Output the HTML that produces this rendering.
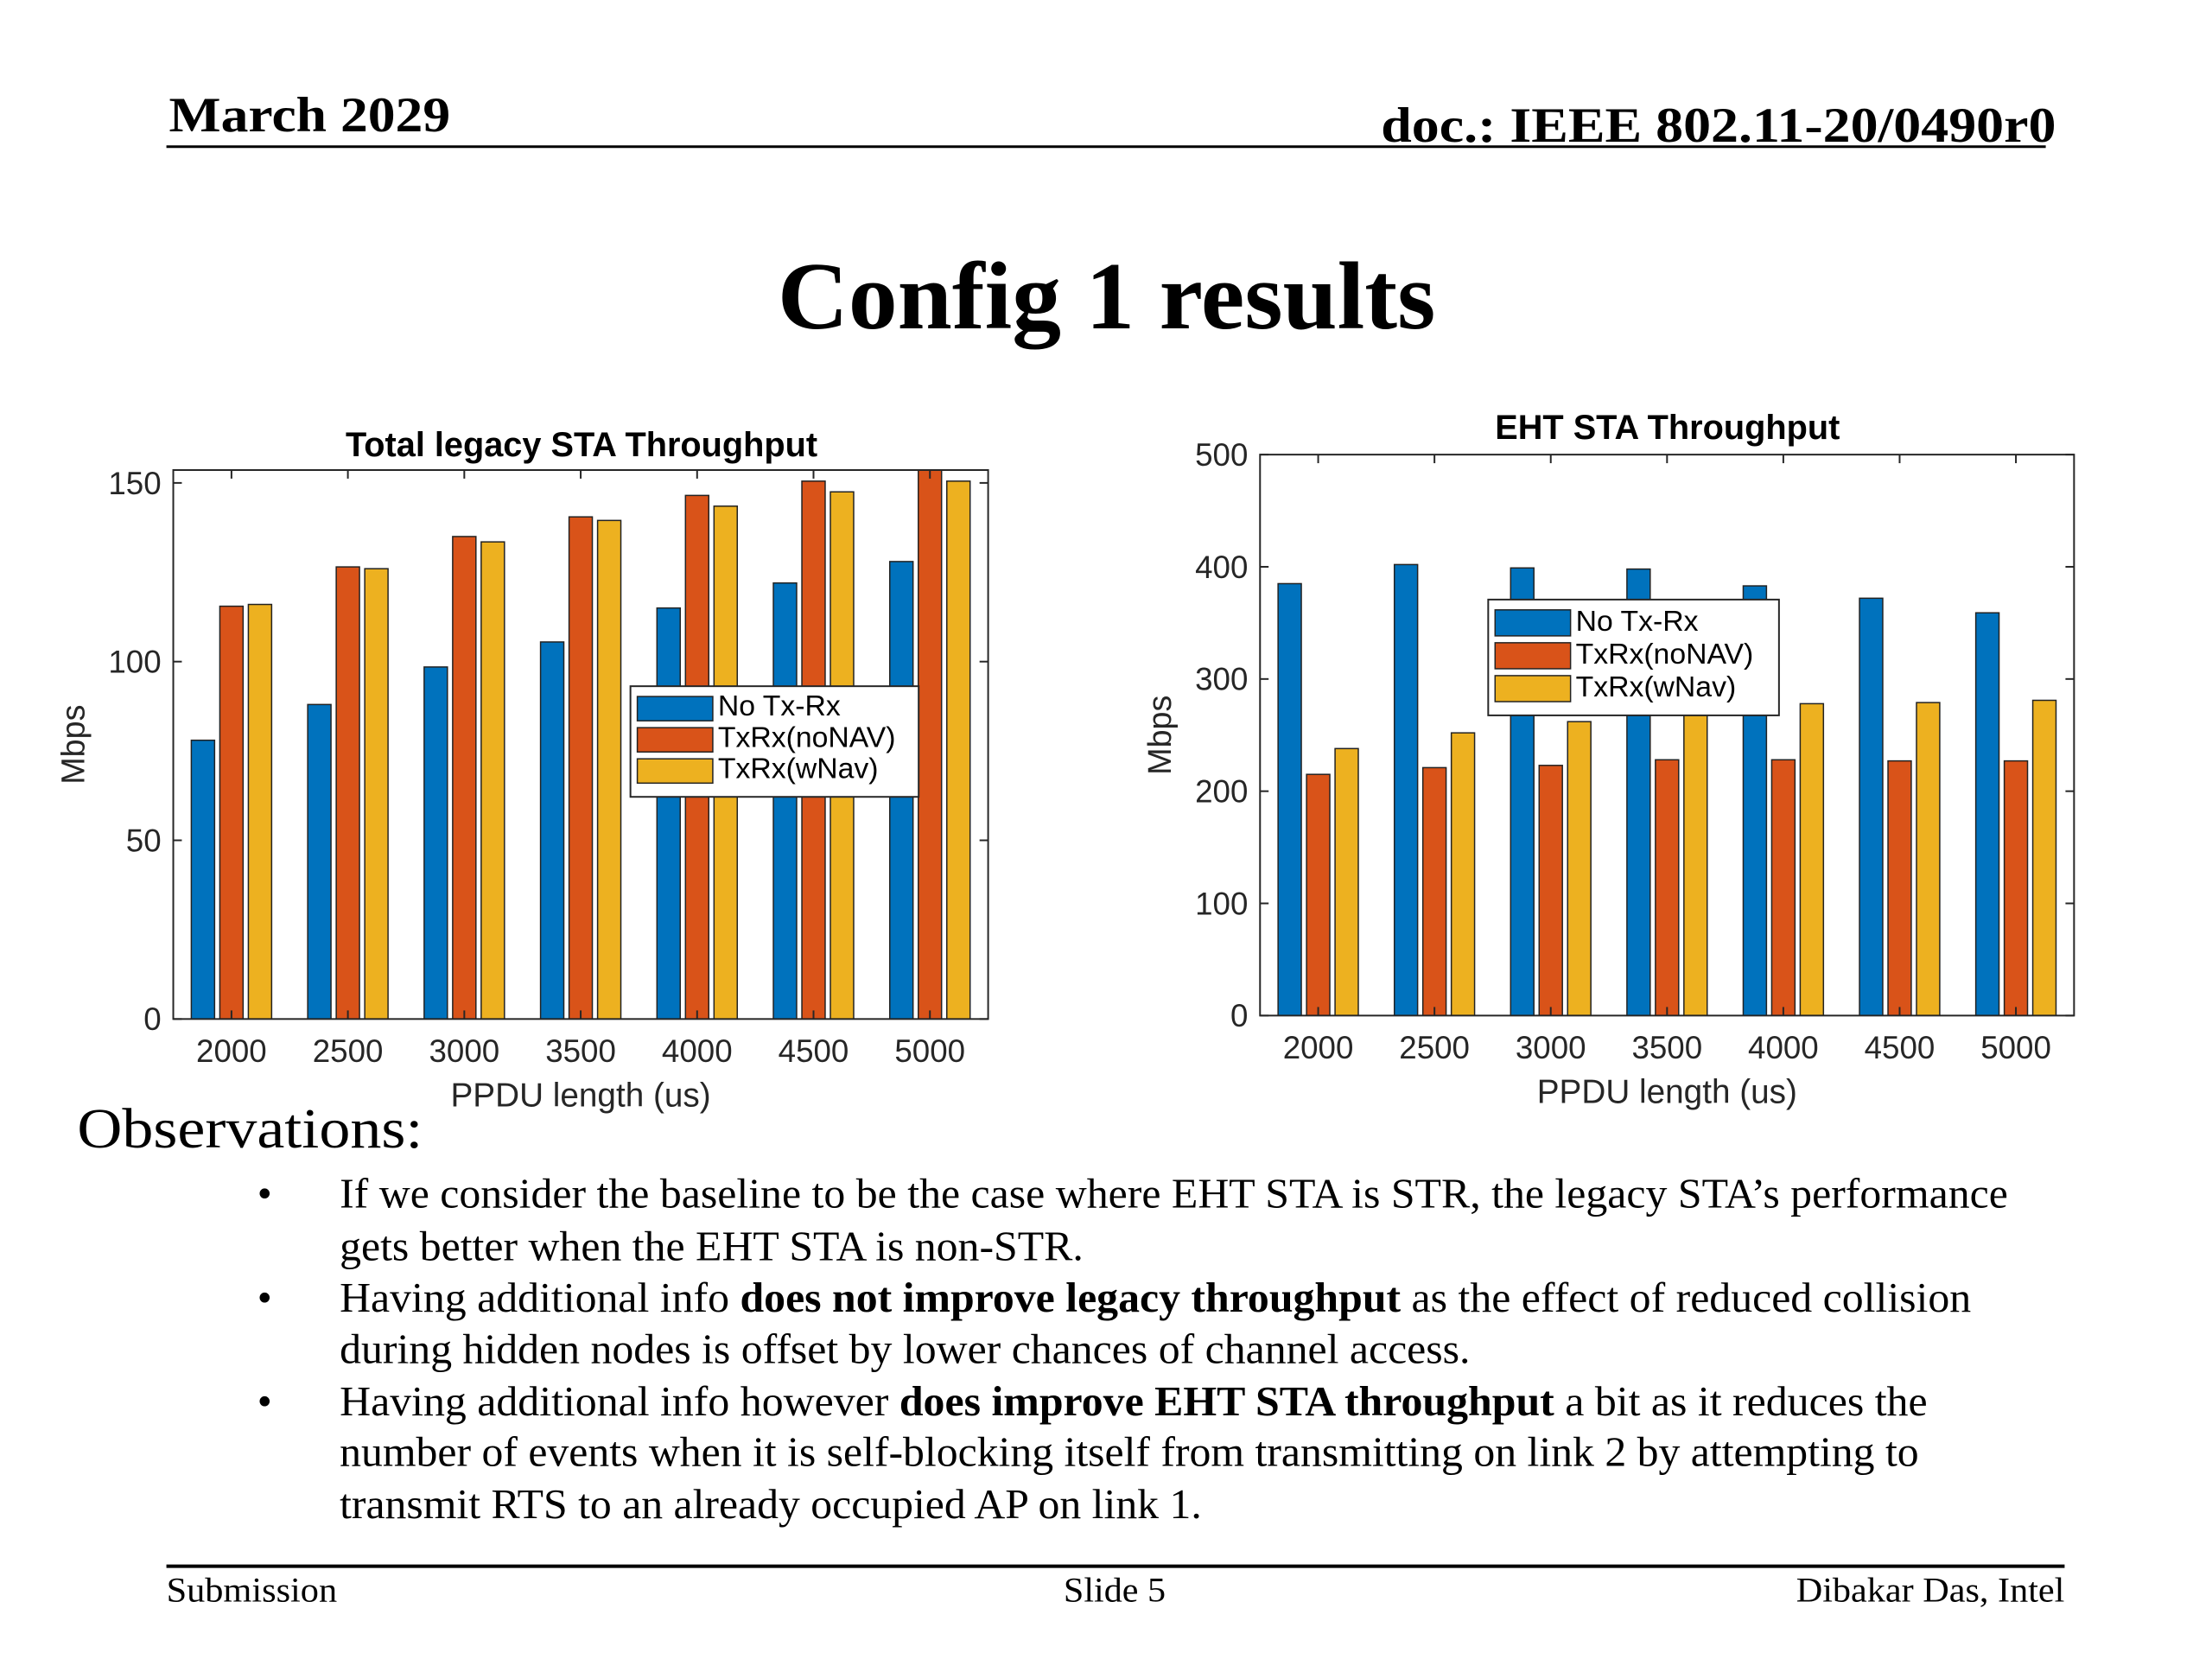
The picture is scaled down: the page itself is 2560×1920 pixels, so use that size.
<!DOCTYPE html>
<html><head><meta charset="utf-8"><style>
html,body{margin:0;padding:0;background:#fff;}
svg{display:block;}
.serif{font-family:"Liberation Serif",serif;}
.sans{font-family:"Liberation Sans",sans-serif;}
</style></head><body>
<svg id="slide" width="2560" height="1920" viewBox="0 0 2560 1920" xmlns="http://www.w3.org/2000/svg">
<rect width="2560" height="1920" fill="#fff"/>
<g transform="scale(0.9927)">
<text class="serif" x="197" y="153" font-size="58" font-weight="bold" textLength="328" lengthAdjust="spacingAndGlyphs">March 2029</text>
<text class="serif" x="2397" y="165" font-size="58" font-weight="bold" text-anchor="end" textLength="787" lengthAdjust="spacingAndGlyphs">doc.: IEEE 802.11-20/0490r0</text>
<line x1="194" y1="171" x2="2385" y2="171" stroke="#000" stroke-width="3"/>
<text class="serif" x="1290" y="383" font-size="112" font-weight="bold" text-anchor="middle" textLength="767" lengthAdjust="spacingAndGlyphs">Config 1 results</text>

<g id="chart1"></g>
<g id="chart2"></g>

<text class="serif" x="90" y="1338" font-size="66" textLength="403" lengthAdjust="spacingAndGlyphs">Observations:</text>
<g class="serif" font-size="49">
<text x="300" y="1408">•</text>
<text x="396" y="1408" textLength="1945" lengthAdjust="spacingAndGlyphs">If we consider the baseline to be the case where EHT STA is STR, the legacy STA’s performance</text>
<text x="396" y="1469" textLength="867" lengthAdjust="spacingAndGlyphs">gets better when the EHT STA is non-STR.</text>
<text x="300" y="1529">•</text>
<text x="396" y="1529" textLength="1902" lengthAdjust="spacingAndGlyphs">Having additional info <tspan font-weight="bold">does not improve legacy throughput</tspan> as the effect of reduced collision</text>
<text x="396" y="1589" textLength="1318" lengthAdjust="spacingAndGlyphs">during hidden nodes is offset by lower chances of channel access.</text>
<text x="300" y="1650">•</text>
<text x="396" y="1650" textLength="1851" lengthAdjust="spacingAndGlyphs">Having additional info however <tspan font-weight="bold">does improve EHT STA throughput</tspan> a bit as it reduces the</text>
<text x="396" y="1709" textLength="1841" lengthAdjust="spacingAndGlyphs">number of events when it is self-blocking itself from transmitting on link 2 by attempting to</text>
<text x="396" y="1770" textLength="1005" lengthAdjust="spacingAndGlyphs">transmit RTS to an already occupied AP on link 1.</text>
</g>
<line x1="194" y1="1826" x2="2407" y2="1826" stroke="#000" stroke-width="4"/>
<g class="serif" font-size="40">
<text x="194" y="1867" textLength="199" lengthAdjust="spacingAndGlyphs">Submission</text>
<text x="1240" y="1867" textLength="119" lengthAdjust="spacingAndGlyphs">Slide 5</text>
<text x="2407" y="1867" text-anchor="end" textLength="313" lengthAdjust="spacingAndGlyphs">Dibakar Das, Intel</text>
</g>
</g>
</svg>
<script>
const categories = ["2000","2500","3000","3500","4000","4500","5000"];
const seriesNames = ["No Tx-Rx","TxRx(noNAV)","TxRx(wNav)"];
const legacyNoTxRx = [78,88,98.5,105.5,115,122,128];
const legacyNoNAV = [115.5,126.5,135,140.5,146.5,150.5,154];
const legacyWNav = [116,126,133.5,139.5,143.5,147.5,150.5];
const legacyTicks = [0,50,100,150];
const ehtNoTxRx = [385,402,399,398,383,372,359];
const ehtNoNAV = [215,221,223,228,228,227,227];
const ehtWNav = [238,252,262,270,278,279,281];
const ehtTicks = [0,100,200,300,400,500];

const NS = "http://www.w3.org/2000/svg";
const colors = ["#0072BD","#D95319","#EDB120"];
function mk(parent, tag, attrs, text){
  const e = document.createElementNS(NS, tag);
  for (const k in attrs) e.setAttribute(k, attrs[k]);
  if (text !== undefined) e.textContent = text;
  parent.appendChild(e);
  return e;
}
function drawChart(g, cfg){
  const L=cfg.x0, R=cfg.x1, T=cfg.y0, B=cfg.y1;
  const yS = v => B - (v - cfg.ymin)/(cfg.ymax - cfg.ymin)*(B-T);
  const gw = (R-L)/categories.length;
  const xS = i => L + gw*(i+0.5);
  const clip = mk(g,"clipPath",{id:cfg.id+"-clip"});
  mk(clip,"rect",{x:L,y:T,width:R-L,height:B-T});
  const bw = gw*0.2, step = gw*0.245;
  const barsG = mk(g,"g",{"clip-path":"url(#"+cfg.id+"-clip)"});
  
  
  cfg.series.forEach((arr,s)=>{
    arr.forEach((v,i)=>{
      const cx = xS(i) + (s-1)*step;
      const r = mk(barsG,"rect",{x:cx-bw/2,y:yS(v),width:bw,height:B-yS(v),fill:colors[s],stroke:"#222",'stroke-width':1.5});
      
      
    });
  });
  const axis = mk(g,"rect",{x:L,y:T,width:R-L,height:B-T,fill:"none",stroke:"#262626",'stroke-width':2});
  
  
  cfg.ticks.forEach(t=>{
    const y=yS(t);
    mk(g,"line",{x1:L,y1:y,x2:L+10,y2:y,stroke:"#262626",'stroke-width':2});
    mk(g,"line",{x1:R,y1:y,x2:R-10,y2:y,stroke:"#262626",'stroke-width':2});
    const tl = mk(g,"text",{x:L-14,y:y+13,'font-size':37,'text-anchor':'end',fill:'#262626','font-family':'Liberation Sans, sans-serif'},String(t));
    
    
  });
  categories.forEach((c,i)=>{
    const x=xS(i);
    mk(g,"line",{x1:x,y1:B,x2:x,y2:B-10,stroke:"#262626",'stroke-width':2});
    mk(g,"line",{x1:x,y1:T,x2:x,y2:T+10,stroke:"#262626",'stroke-width':2});
    const tl = mk(g,"text",{x:x,y:B+50,'font-size':37,'text-anchor':'middle',fill:'#262626','font-family':'Liberation Sans, sans-serif'},c);
    
    
  });
  const xl = mk(g,"text",{x:(L+R)/2,y:B+102,'font-size':39,'text-anchor':'middle',fill:'#262626','font-family':'Liberation Sans, sans-serif'},"PPDU length (us)");
  
  
  const yl = mk(g,"text",{x:0,y:0,'font-size':38,'text-anchor':'middle',fill:'#262626','font-family':'Liberation Sans, sans-serif',transform:'translate('+cfg.ylx+','+((T+B)/2)+') rotate(-90)'},"Mbps");
  
  
  const tt = mk(g,"text",{x:cfg.titleX,y:cfg.titleY,'font-size':40,'font-weight':'bold','text-anchor':'middle',fill:'#000','font-family':'Liberation Sans, sans-serif'},cfg.title);
  
  
  const lg = mk(g,"g",{});
  
  
  const lx=cfg.lx, ly=cfg.ly, lw=cfg.lw, lh=cfg.lh;
  mk(lg,"rect",{x:lx,y:ly,width:lw,height:lh,fill:"#fff",stroke:"#262626",'stroke-width':2});
  seriesNames.forEach((n,s)=>{
    const rowY = ly + 10 + s*(lh-20)/3;
    const rh = (lh-20)/3 - 8;
    const sw = mk(lg,"rect",{x:lx+8,y:rowY+2,width:88,height:rh,fill:colors[s],stroke:"#222",'stroke-width':1.5});
    
    
    const lt = mk(lg,"text",{x:lx+102,y:rowY+rh-4,'font-size':34,fill:'#000','font-family':'Liberation Sans, sans-serif'},n);
    
    
  });
}
drawChart(document.getElementById('chart1'),{id:'legacy',x0:202,x1:1152,y0:548,y1:1188,ymin:0,ymax:153.6,
  series:[legacyNoTxRx,legacyNoNAV,legacyWNav],ticks:legacyTicks,ylx:98,title:"Total legacy STA Throughput",titleX:678,titleY:532,
  lx:735,ly:800,lw:336,lh:129});
drawChart(document.getElementById('chart2'),{id:'eht',x0:1469,x1:2418,y0:530,y1:1184,ymin:0,ymax:500,
  series:[ehtNoTxRx,ehtNoNAV,ehtWNav],ticks:ehtTicks,ylx:1365,title:"EHT STA Throughput",titleX:1944,titleY:512,
  lx:1735,ly:699,lw:339,lh:135});
</script>
</body></html>
